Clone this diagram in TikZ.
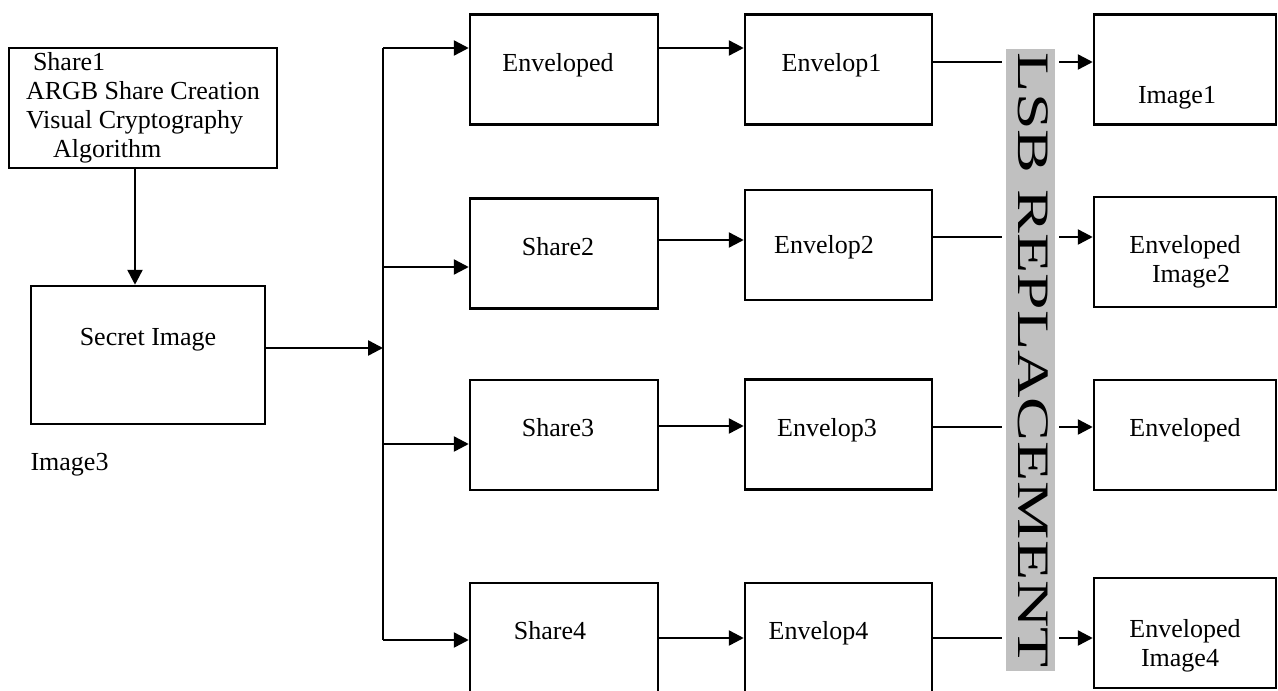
\documentclass[tikz,border=0pt]{standalone}
\usepackage{fontspec}
\setmainfont{Liberation Serif}
\usetikzlibrary{arrows.meta}
\definecolor{grigio}{RGB}{192,192,192}

\tikzset{
  blocco/.style={draw, line width=2.5pt, inner sep=0pt, minimum width=188pt, minimum height=110pt, text height=18pt, text depth=15pt},
  freccia/.style={line width=2.5pt, -{Triangle[length=15pt,width=15pt]}},
  linea/.style={line width=2.5pt},
}

\begin{document}
\begin{tikzpicture}[x=1pt, y=-1pt, every node/.style={font=\fontsize{26}{29}\selectfont}]
  \useasboundingbox (0,0) rectangle (1278,691);

  % Blocchi a sinistra
  \node[blocco, minimum width=268pt, minimum height=120pt, text height=, text depth=] (share1) at (143,108)
    {\begin{tabular}{@{}l@{}}\hspace*{7pt}Share1\\ARGB Share Creation\\Visual Cryptography\\\hspace*{27pt}Algorithm\end{tabular}};
  \node[blocco, minimum width=234pt, minimum height=138pt, text depth=37pt] (secret) at (148,355) {Secret Image};
  \node[anchor=base west] (img3) at (27,470) {Image3};
  \draw[freccia] ([xshift=-8pt]share1.south) -- ([xshift=-8pt]share1.south |- secret.north);

  % Prima colonna
  \node[blocco] (sh1) at (564,69.5) {Enveloped\hspace*{12pt}};
  \node[blocco] (sh2) at (564,253.5) {Share2\hspace*{12pt}};
  \node[blocco] (sh3) at (564,435) {Share3\hspace*{12pt}};
  \node[blocco] (sh4) at (564,638) {Share4\hspace*{28pt}};

  % Seconda colonna
  \node[blocco, minimum width=187pt] (env1) at (838.5,69.5) {Envelop1\hspace*{14pt}};
  \node[blocco, minimum width=187pt, text depth=1pt] (env2) at (838.5,245) {Envelop2\hspace*{29pt}};
  \node[blocco, minimum width=187pt] (env3) at (838.5,434.5) {Envelop3\hspace*{23pt}};
  \node[blocco, minimum width=187pt] (env4) at (838.5,638) {Envelop4\hspace*{40pt}};

  % Barra LSB
  \node[fill=grigio, inner sep=0pt, outer xsep=4pt, minimum width=49pt, minimum height=622pt] (lsb) at (1030.5,360) {};
  \node[font=\fontsize{45}{45}\selectfont, inner sep=0pt, rotate=-90, xscale=1.46] (lsbtxt) at (1033,360.5) {LSB REPLACEMENT};

  % Terza colonna
  \node[blocco, minimum width=182pt, text height=70pt, text depth=2pt] (im1) at (1185,69.5) {Image1\hspace*{16pt}};
  \node[blocco, minimum width=182pt, text height=40pt, text depth=7pt] (im2) at (1185,252)
    {\begin{tabular}{@{}c@{}}Enveloped\\\hspace*{12pt}Image2\end{tabular}};
  \node[blocco, minimum width=182pt] (im3) at (1185,435) {Enveloped};
  \node[blocco, minimum width=182pt, text height=42pt, text depth=4pt] (im4) at (1185,633)
    {\begin{tabular}{@{}c@{}}Enveloped\\Image4\hspace*{10pt}\end{tabular}};

  % Smistamento
  \coordinate (p1) at (383,48);
  \coordinate (p2) at (383,267);
  \coordinate (p3) at (383,444);
  \coordinate (p4) at (383,640);
  \draw[line width=1.8pt] (p1) -- (p4);
  \draw[freccia] (secret.east |- 0,348) -- (p1 |- 0,348);
  \foreach \n in {1,2,3,4} \draw[freccia] (p\n) -- (p\n -| sh\n.west);

  % Frecce verso Envelop
  \foreach \n/\y in {1/48, 2/240, 3/426, 4/638}
    \draw[freccia] (sh\n.east |- 0,\y) -- (env\n.west |- 0,\y);

  % Attraverso la barra
  \foreach \n/\y in {1/62, 2/237, 3/427, 4/638} {
    \draw[linea] (env\n.east |- 0,\y) -- (lsb.west |- 0,\y);
    \draw[freccia] (lsb.east |- 0,\y) -- (im\n.west |- 0,\y);
  }
\end{tikzpicture}
\end{document}
